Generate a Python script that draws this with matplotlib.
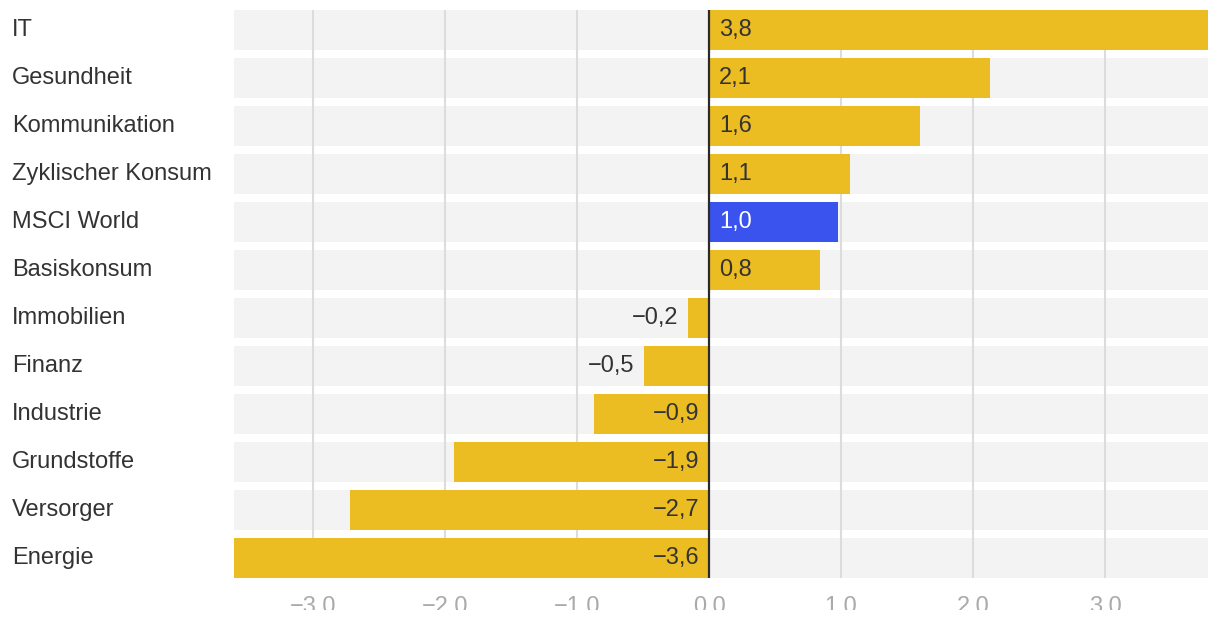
import matplotlib.pyplot as plt
import matplotlib.patches as mpatches
import matplotlib.transforms as mtransforms

plt.rcParams['font.family'] = ['Liberation Sans', 'DejaVu Sans']

# Sektoren und Werte (von oben nach unten)
sectors = ['IT', 'Gesundheit', 'Kommunikation', 'Zyklischer Konsum', 'MSCI World',
           'Basiskonsum', 'Immobilien', 'Finanz', 'Industrie', 'Grundstoffe',
           'Versorger', 'Energie']
values = [3.78, 2.13, 1.60, 1.07, 0.98, 0.84, -0.16, -0.49, -0.87, -1.93, -2.72, -3.6]
highlight = 'MSCI World'

x_ticks = [-3, -2, -1, 0, 1, 2, 3]
x_tick_labels = ['\u22123.0', '\u22122.0', '\u22121.0', '0.0', '1.0', '2.0', '3.0']

YELLOW = '#ebbd22'
BLUE = '#3a52ee'
BAND = '#f3f3f3'
TEXT = '#333333'
FS = 17

fig = plt.figure(figsize=(12.2, 6.2), dpi=100)
ax = fig.add_axes([234 / 1220, 1 - 578 / 620, (1208 - 234) / 1220, 568 / 620])

xmin, xmax = -3.6, 3.78
ypos = list(range(len(sectors)))
h = 40 / 48

# Hintergrundbänder
ax.barh(ypos, xmax - xmin, left=xmin, height=h, color=BAND, zorder=0)
for t in x_ticks:
    if t != 0:
        ax.axvline(t, color='#dcdcdc', linewidth=1.5, zorder=1)

colors = [BLUE if s == highlight else YELLOW for s in sectors]
ax.barh(ypos, values, height=h, color=colors, zorder=2)
ax.axvline(0, color='#2b2b2b', linewidth=1.6, zorder=4)

# Werte-Beschriftung
for y, v, s in zip(ypos, values, sectors):
    txt = f'{abs(v):.1f}'.replace('.', ',')
    if v < 0:
        txt = '\u2212' + txt
    c = 'white' if s == highlight else TEXT
    if v >= 0:
        ax.text(0.075, y, txt, ha='left', va='center', fontsize=FS, color=c, zorder=5)
    elif v < -0.7:
        ax.text(-0.075, y, txt, ha='right', va='center', fontsize=FS, color=c, zorder=5)
    else:
        ax.text(v - 0.075, y, txt, ha='right', va='center', fontsize=FS, color=c, zorder=5)

# Kategorien links
trans = mtransforms.blended_transform_factory(fig.transFigure, ax.transData)
for y, s in zip(ypos, sectors):
    ax.text(12 / 1220, y, s, transform=trans, ha='left', va='center',
            fontsize=FS, color=TEXT, clip_on=False)

ax.set_xlim(xmin, xmax)
ax.set_ylim(len(sectors) - 1 + h / 2, -h / 2)
ax.set_yticks([])
ax.set_xticks(x_ticks)
ax.set_xticklabels(x_tick_labels, fontsize=FS, color='#aaaaaa')
ax.tick_params(axis='x', length=0, pad=13)
for sp in ax.spines.values():
    sp.set_visible(False)

# untere Kante abgeschnitten wie im Original
fig.patches.append(mpatches.Rectangle((0, 0), 1, 10 / 620, transform=fig.transFigure,
                                      facecolor='white', edgecolor='none', zorder=10))

fig.savefig('out.png', dpi=100)
